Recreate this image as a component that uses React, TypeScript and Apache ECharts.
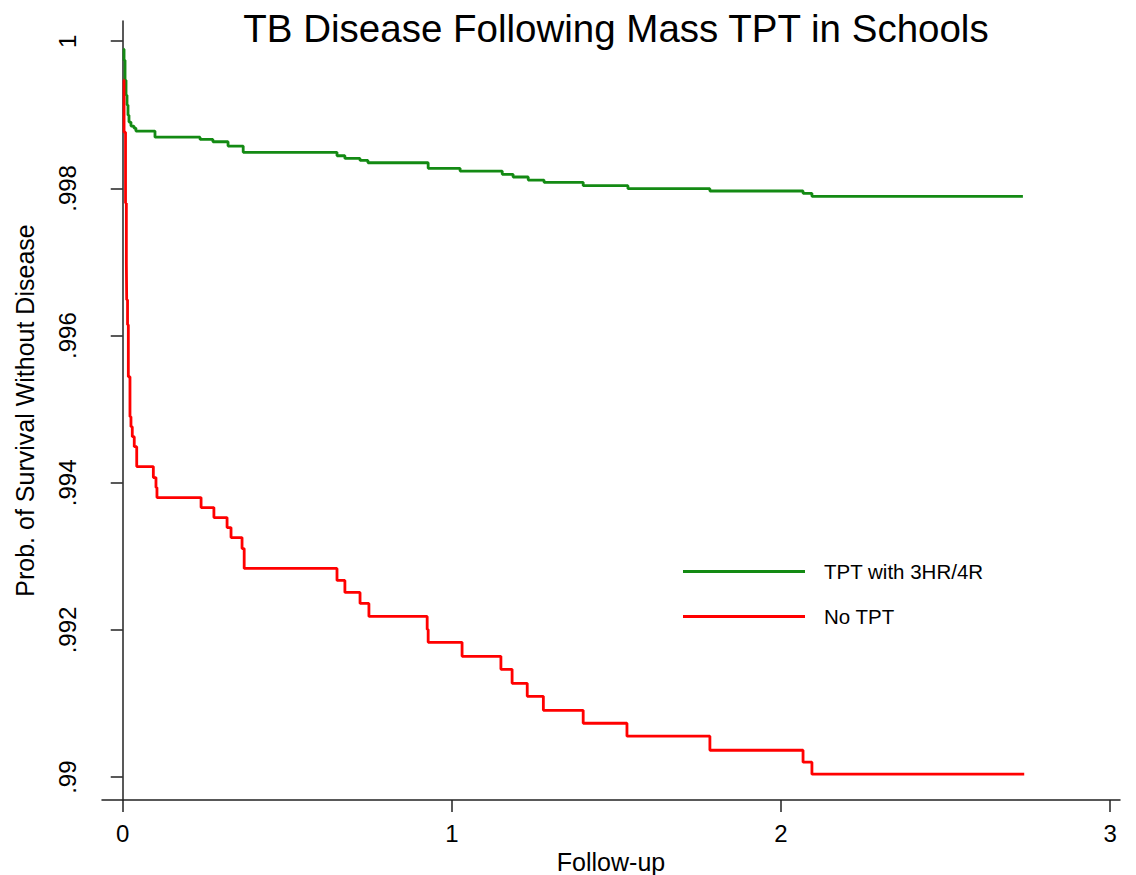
import React, { useEffect, useRef } from "react";
import * as echarts from "echarts";

// Kaplan-Meier estimates: [follow-up time, survival probability]
const tptTimes = [0.0018, 0.004, 0.007, 0.010, 0.013, 0.016, 0.019, 0.025, 0.034, 0.040, 0.098, 0.235, 0.274, 0.320, 0.366, 0.651, 0.675, 0.721, 0.745, 0.928, 1.025, 1.153, 1.186, 1.232, 1.280, 1.399, 1.535, 1.784, 2.067, 2.094, 2.735];
const tptSurv = [0.999891, 0.999742, 0.999471, 0.999267, 0.999132, 0.998996, 0.998901, 0.998847, 0.99882, 0.998779, 0.998697, 0.998666, 0.998634, 0.998575, 0.99849, 0.998444, 0.998408, 0.998381, 0.998349, 0.998273, 0.998236, 0.998191, 0.998155, 0.998114, 0.998083, 0.998037, 0.997996, 0.997965, 0.997934, 0.997893, 0.997893];

const noTptTimes = [0.0018, 0.004, 0.0085, 0.011, 0.012, 0.0146, 0.017, 0.022, 0.025, 0.029, 0.035, 0.0425, 0.093, 0.101, 0.104, 0.238, 0.277, 0.317, 0.329, 0.3625, 0.369, 0.651, 0.675, 0.721, 0.748, 0.925, 0.928, 1.031, 1.149, 1.183, 1.229, 1.278, 1.399, 1.532, 1.784, 2.067, 2.094, 2.739];
const noTptSurv = [0.999471, 0.998765, 0.997802, 0.996988, 0.996486, 0.996147, 0.995441, 0.994898, 0.994763, 0.994627, 0.994491, 0.99422, 0.994071, 0.993935, 0.993799, 0.993664, 0.993528, 0.993392, 0.993256, 0.993107, 0.992836, 0.992673, 0.99251, 0.992361, 0.992185, 0.992008, 0.991832, 0.991642, 0.991465, 0.991275, 0.991099, 0.990909, 0.990733, 0.990557, 0.990366, 0.990204, 0.990041, 0.990041];

const xTicks = [0, 1, 2, 3];
const yTicks = [0.99, 0.992, 0.994, 0.996, 0.998, 1];

const seriesNames = ["TPT with 3HR/4R", "No TPT"];

const FONT = "'Liberation Sans', Arial, Helvetica, sans-serif";

function fmtY(v: number): string {
  if (Math.abs(v - 1) < 1e-9) return "1";
  const s = String(Math.round(v * 1000) / 1000);
  return s.replace(/^0/, "");
}

export default function App() {
  const ref = useRef<HTMLDivElement>(null);
  useEffect(() => {
    if (!ref.current) return;
    const chart = echarts.init(ref.current, null, { renderer: "svg" });
    const tptData = tptTimes.map((t, i) => [t, tptSurv[i]]);
    const noData = noTptTimes.map((t, i) => [t, noTptSurv[i]]);
    chart.setOption({
      animation: false,
      backgroundColor: "#ffffff",
      title: {
        text: "TB Disease Following Mass TPT in Schools",
        left: 611,
        textAlign: "center",
        top: 4,
        textStyle: { fontFamily: FONT, fontSize: 38.5, fontWeight: "normal", color: "#000" },
      },
      grid: { left: 102, right: 16, top: 21, bottom: 75, containLabel: false, outerBoundsMode: "none" },
      legend: {
        orient: "vertical",
        left: 683,
        top: 561,
        padding: 0,
        icon: "rect",
        itemWidth: 122,
        itemHeight: 3,
        itemGap: 24,
        data: seriesNames,
        textStyle: { fontFamily: FONT, fontSize: 20.5, color: "#000", lineHeight: 21, padding: [0, 0, 0, 14] },
        selectedMode: false,
      },
      xAxis: {
        type: "value",
        min: -0.063,
        max: 3.03,
        name: "Follow-up",
        nameLocation: "middle",
        nameGap: 47,
        nameTextStyle: { fontFamily: FONT, fontSize: 25, color: "#000" },
        axisLine: { show: true, lineStyle: { color: "#222", width: 1.5 } },
        axisTick: { show: true, length: 12, lineStyle: { color: "#222", width: 1.5 }, customValues: xTicks },
        axisLabel: {
          customValues: xTicks,
          fontFamily: FONT,
          fontSize: 24,
          color: "#000",
          margin: 21,
          formatter: (v: number) => String(v),
        },
        splitLine: { show: false },
      },
      yAxis: {
        type: "value",
        min: 0.98969,
        max: 1.000275,
        name: "Prob. of Survival Without Disease",
        nameLocation: "middle",
        nameGap: 65,
        nameTextStyle: { fontFamily: FONT, fontSize: 25, color: "#000" },
        axisLine: { show: true, lineStyle: { color: "#222", width: 1.5 } },
        axisTick: { show: true, length: 12, lineStyle: { color: "#222", width: 1.5 }, customValues: yTicks },
        axisLabel: {
          customValues: yTicks,
          rotate: 90,
          fontFamily: FONT,
          fontSize: 24,
          color: "#000",
          margin: 23,
          formatter: fmtY,
        },
        splitLine: { show: false },
      },
      series: [
        {
          name: seriesNames[0],
          type: "line",
          step: "end",
          showSymbol: false,
          data: tptData,
          color: "#138a13",
          lineStyle: { color: "#138a13", width: 2.8 },
          z: 2,
        },
        {
          name: seriesNames[1],
          type: "line",
          step: "end",
          showSymbol: false,
          data: noData,
          color: "#ff0000",
          lineStyle: { color: "#ff0000", width: 2.8 },
          z: 3,
        },
      ],
    });
    return () => chart.dispose();
  }, []);
  return (
    <div
      ref={ref}
      style={{ position: "fixed", left: 0, top: 0, width: 1136, height: 875, background: "#fff" }}
    />
  );
}
